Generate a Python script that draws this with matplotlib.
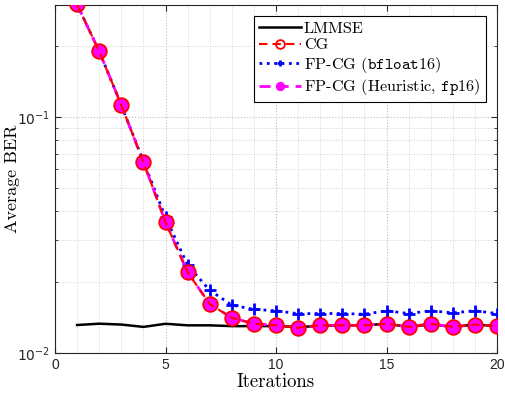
import numpy as np
import matplotlib
matplotlib.use("Agg")
import matplotlib.pyplot as plt
from matplotlib.ticker import FixedLocator, FuncFormatter, MultipleLocator, LogLocator, NullFormatter
from matplotlib.font_manager import FontProperties

iters = list(range(1, 21))
lmmse = [0.01314, 0.01331, 0.0132, 0.0129, 0.0133, 0.0131, 0.0131, 0.0130, 0.0130, 0.0130,
         0.0129, 0.0130, 0.0131, 0.0131, 0.0133, 0.0129, 0.0132, 0.0129, 0.0132, 0.0130]
cg = [0.30, 0.19, 0.1125, 0.0644, 0.0359, 0.0220, 0.01613, 0.0141, 0.01331, 0.0131,
      0.0128, 0.0131, 0.0131, 0.0131, 0.0133, 0.0129, 0.0133, 0.0129, 0.0132, 0.0130]
bf16 = [0.30, 0.19, 0.1125, 0.0650, 0.0376, 0.0236, 0.01844, 0.01596, 0.01531, 0.0151,
        0.01468, 0.0147, 0.0147, 0.0146, 0.0151, 0.0147, 0.0151, 0.0148, 0.0151, 0.0147]
heur = [0.30, 0.19, 0.1125, 0.0644, 0.0359, 0.0220, 0.01613, 0.0141, 0.01331, 0.0131,
        0.0128, 0.0131, 0.0131, 0.0131, 0.0133, 0.0129, 0.0133, 0.0129, 0.0132, 0.0130]

labels = ["LMMSE", "CG", r"FP-CG ($\mathtt{bfloat16}$)", r"FP-CG (Heuristic, $\mathtt{fp16}$)"]

fig = plt.figure(figsize=(5.05, 3.95), dpi=100)
ax = fig.add_axes([55/505, 1-353/395, (497-55)/505, (353-5)/395])

ax.plot(iters, lmmse, color='black', lw=1.8, label=labels[0], zorder=3)
ax.plot(iters, cg, color='red', ls=(0, (4, 2.5)), lw=1.5, marker='o', ms=10.5,
        mfc='none', mec='red', mew=1.3, label=labels[1], zorder=6)
ax.plot(iters, bf16, color='blue', ls=':', lw=2, marker='+', ms=8, mew=2,
        label=labels[2], zorder=4)
ax.plot(iters, heur, color='magenta', ls=(0, (4, 2.5)), lw=2, marker='o', ms=9.5,
        mfc='magenta', mec='magenta', label=labels[3], zorder=5)

ax.set_yscale('log')
ax.set_xlim(0, 20)
ax.set_ylim(0.01, 0.2985)
ax.xaxis.set_major_locator(FixedLocator([0, 5, 10, 15, 20]))
ax.xaxis.set_minor_locator(MultipleLocator(1))
ax.yaxis.set_major_locator(FixedLocator([0.01, 0.1]))
ax.yaxis.set_minor_locator(LogLocator(base=10, subs=np.arange(2, 10)))
ax.yaxis.set_minor_formatter(NullFormatter())
ax.yaxis.set_major_formatter(FuncFormatter(lambda v, p: r"$10^{%d}$" % int(round(np.log10(v)))))

ax.grid(True, which='major', ls=':', color='#bdbdbd', lw=0.8)
ax.grid(True, which='minor', ls=':', color='#d2d2d2', lw=0.7)
ax.tick_params(which='both', direction='in', top=True, right=True, labelsize=10, color='#262626')
ax.tick_params(which='major', length=4)
ax.tick_params(axis='x', which='minor', length=0)
ax.tick_params(axis='y', which='minor', length=2)
for lab in ax.get_xticklabels() + ax.get_yticklabels():
    lab.set_family('Liberation Sans')
    lab.set_math_fontfamily('dejavusans')
    lab.set_color('#262626')
for s in ax.spines.values():
    s.set_color('#262626')
    s.set_linewidth(0.8)

ax.set_xlabel("Iterations", fontdict=dict(family='cmr10', size=13.5), labelpad=1)
ax.set_ylabel("Average BER", fontdict=dict(family='cmr10', size=13))
ax.yaxis.set_label_coords(-0.08, 0.5)

fp = FontProperties(family='cmr10', size=11.7, math_fontfamily='cm')
leg = ax.legend(loc='upper right', prop=fp, frameon=True, fancybox=False,
                edgecolor='black', framealpha=1, borderaxespad=0.7,
                handlelength=2.6, handletextpad=0.2, labelspacing=0.15,
                borderpad=0.3, markerscale=0.6)
leg.set_zorder(10)
leg.get_frame().set_linewidth(0.8)

fig.savefig("out.png", dpi=100)
